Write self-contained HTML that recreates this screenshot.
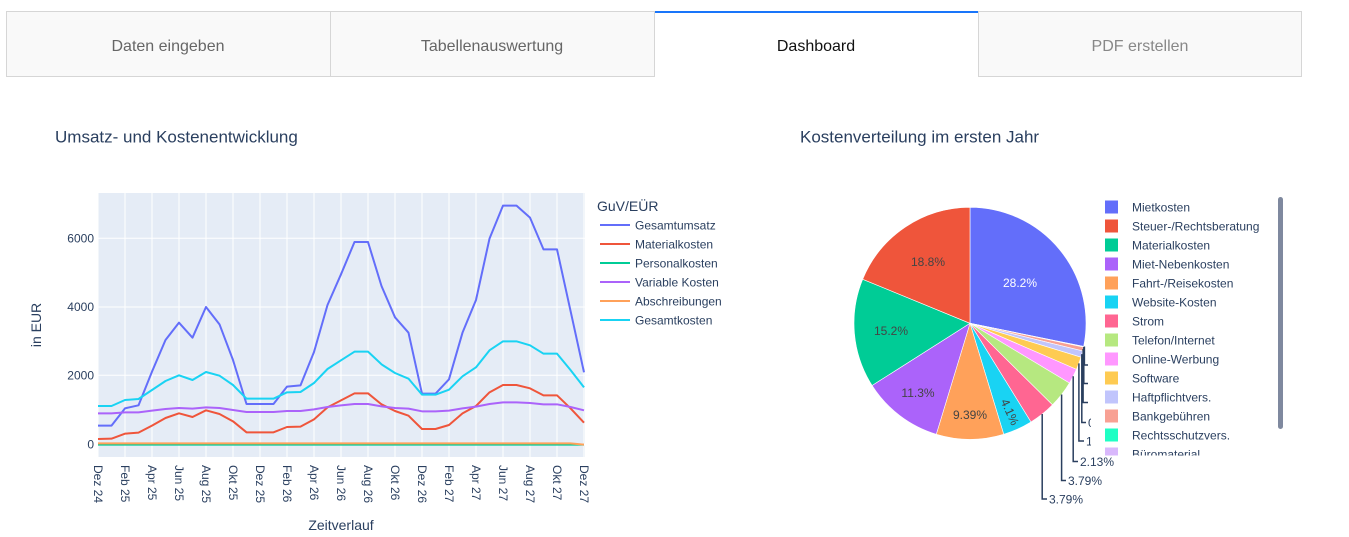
<!DOCTYPE html>
<html><head><meta charset="utf-8"><style>
html,body{margin:0;padding:0;background:#fff;}
svg{display:block;font-family:"Liberation Sans",sans-serif;}
</style></head><body>
<svg width="1349" height="537" viewBox="0 0 1349 537" xmlns="http://www.w3.org/2000/svg">
<!-- Tabs -->
<rect x="6.5" y="11.5" width="324" height="65" fill="#f9f9f9" stroke="#d6d6d6"/>
<rect x="330.5" y="11.5" width="324" height="65" fill="#f9f9f9" stroke="#d6d6d6"/>
<rect x="978.5" y="11.5" width="323" height="65" fill="#f9f9f9" stroke="#d6d6d6"/>
<rect x="655" y="11" width="323" height="2" fill="#1975FA"/>
<g font-size="16" text-anchor="middle">
<text x="168" y="51" fill="#666">Daten eingeben</text>
<text x="492" y="51" fill="#666">Tabellenauswertung</text>
<text x="816" y="51" fill="#111">Dashboard</text>
<text x="1140" y="51" fill="#888">PDF erstellen</text>
</g>

<!-- Titles -->
<text x="55" y="142.5" font-size="17" fill="#2a3f5f">Umsatz- und Kostenentwicklung</text>
<text x="800" y="142.5" font-size="17" fill="#2a3f5f">Kostenverteilung im ersten Jahr</text>

<!-- Line chart plot area -->
<rect x="98" y="193" width="487" height="264" fill="#E5ECF6"/>
<g stroke="#fff" stroke-width="1">
<line x1="98" y1="238.3" x2="585" y2="238.3"/>
<line x1="98" y1="307" x2="585" y2="307"/>
<line x1="98" y1="375.3" x2="585" y2="375.3"/>
<line x1="98" y1="444.3" x2="585" y2="444.3" stroke-width="2"/>
<line x1="98" y1="193" x2="98" y2="457"/><line x1="125" y1="193" x2="125" y2="457"/><line x1="152" y1="193" x2="152" y2="457"/><line x1="179" y1="193" x2="179" y2="457"/><line x1="206" y1="193" x2="206" y2="457"/><line x1="233" y1="193" x2="233" y2="457"/><line x1="260" y1="193" x2="260" y2="457"/><line x1="287" y1="193" x2="287" y2="457"/><line x1="314" y1="193" x2="314" y2="457"/><line x1="341" y1="193" x2="341" y2="457"/><line x1="368" y1="193" x2="368" y2="457"/><line x1="395" y1="193" x2="395" y2="457"/><line x1="422" y1="193" x2="422" y2="457"/><line x1="449" y1="193" x2="449" y2="457"/><line x1="476" y1="193" x2="476" y2="457"/><line x1="503" y1="193" x2="503" y2="457"/><line x1="530" y1="193" x2="530" y2="457"/><line x1="557" y1="193" x2="557" y2="457"/><line x1="584" y1="193" x2="584" y2="457"/>
</g>

<g transform="translate(80,180) scale(0.33333)" fill="none" stroke-width="2" stroke-linejoin="round">
<polyline vector-effect="non-scaling-stroke" stroke="#636EFA" stroke-width="2" points="54,737 94.5,737 135,685 175.5,676 216,575 256.5,480 297,428 337.5,473 378,381 418.5,433 459,540 499.5,672 540,672 580.5,672 621,620 661.5,616 702,516 742.5,375 783,283 823.5,186 864,186 904.5,318 945,412 985.5,458 1026,641 1066.5,641 1107,598 1147.5,458 1188,360 1228.5,176 1269,77 1309.5,77 1350,113 1390.5,208 1431,208 1471.5,392 1512,577"/>
<polyline vector-effect="non-scaling-stroke" stroke="#EF553B" stroke-width="2" points="54,777 94.5,776 135,761 175.5,758 216,737 256.5,714 297,700 337.5,711 378,691 418.5,702 459,724 499.5,757 540,757 580.5,757 621,741 661.5,740 702,718 742.5,682 783,661 823.5,640 864,640 904.5,673 945,693 985.5,707 1026,747 1066.5,747 1107,735 1147.5,700 1188,678 1228.5,637 1269,615 1309.5,615 1350,625 1390.5,646 1431,646 1471.5,685 1512,728"/>
<polyline vector-effect="non-scaling-stroke" stroke="#00CC96" stroke-width="2" points="54,794 1512,794"/>
<polyline vector-effect="non-scaling-stroke" stroke="#AB63FA" stroke-width="2" points="54,700 94.5,700 135,697 175.5,697 216,692 256.5,687 297,684 337.5,686 378,682 418.5,684 459,690 499.5,696 540,696 580.5,696 621,693 661.5,693 702,688 742.5,681 783,676 823.5,672 864,672 904.5,679 945,684 985.5,686 1026,694 1066.5,694 1107,692 1147.5,685 1188,680 1228.5,672 1269,667 1309.5,667 1350,669 1390.5,673 1431,673 1471.5,681 1512,691"/>
<polyline vector-effect="non-scaling-stroke" stroke="#FFA15A" stroke-width="2" points="54,790 1471.5,790 1512,794"/>
<polyline vector-effect="non-scaling-stroke" stroke="#19D3F3" stroke-width="2" points="54,678 94.5,678 135,660 175.5,657 216,630 256.5,603 297,586 337.5,600 378,576 418.5,587 459,615 499.5,656 540,656 580.5,656 621,637 661.5,636 702,609 742.5,567 783,541 823.5,515 864,515 904.5,553 945,579 985.5,596 1026,644 1066.5,644 1107,629 1147.5,589 1188,562 1228.5,511 1269,484 1309.5,484 1350,496 1390.5,521 1431,521 1471.5,570 1512,622"/>
</g>

<!-- Y axis -->
<g font-size="12" fill="#2a3f5f" text-anchor="end">
<text x="94" y="242.5">6000</text>
<text x="94" y="311">4000</text>
<text x="94" y="379.5">2000</text>
<text x="94" y="448.5">0</text>
</g>
<text transform="translate(36,325) rotate(-90)" font-size="14" fill="#2a3f5f" text-anchor="middle" dy="0.35em">in EUR</text>

<!-- X axis -->
<g font-size="12" fill="#2a3f5f">
<text transform="translate(98,465) rotate(90)" dy="0.35em">Dez 24</text>
<text transform="translate(125,465) rotate(90)" dy="0.35em">Feb 25</text>
<text transform="translate(152,465) rotate(90)" dy="0.35em">Apr 25</text>
<text transform="translate(179,465) rotate(90)" dy="0.35em">Jun 25</text>
<text transform="translate(206,465) rotate(90)" dy="0.35em">Aug 25</text>
<text transform="translate(233,465) rotate(90)" dy="0.35em">Okt 25</text>
<text transform="translate(260,465) rotate(90)" dy="0.35em">Dez 25</text>
<text transform="translate(287,465) rotate(90)" dy="0.35em">Feb 26</text>
<text transform="translate(314,465) rotate(90)" dy="0.35em">Apr 26</text>
<text transform="translate(341,465) rotate(90)" dy="0.35em">Jun 26</text>
<text transform="translate(368,465) rotate(90)" dy="0.35em">Aug 26</text>
<text transform="translate(395,465) rotate(90)" dy="0.35em">Okt 26</text>
<text transform="translate(422,465) rotate(90)" dy="0.35em">Dez 26</text>
<text transform="translate(449,465) rotate(90)" dy="0.35em">Feb 27</text>
<text transform="translate(476,465) rotate(90)" dy="0.35em">Apr 27</text>
<text transform="translate(503,465) rotate(90)" dy="0.35em">Jun 27</text>
<text transform="translate(530,465) rotate(90)" dy="0.35em">Aug 27</text>
<text transform="translate(557,465) rotate(90)" dy="0.35em">Okt 27</text>
<text transform="translate(584,465) rotate(90)" dy="0.35em">Dez 27</text>
</g>
<text x="341" y="530" font-size="14" fill="#2a3f5f" text-anchor="middle">Zeitverlauf</text>

<!-- Line legend -->
<text x="597" y="211" font-size="14" fill="#2a3f5f">GuV/EÜR</text>
<g stroke-width="2">
<line x1="600" y1="225" x2="630" y2="225" stroke="#636EFA"/>
<line x1="600" y1="244" x2="630" y2="244" stroke="#EF553B"/>
<line x1="600" y1="263" x2="630" y2="263" stroke="#00CC96"/>
<line x1="600" y1="282" x2="630" y2="282" stroke="#AB63FA"/>
<line x1="600" y1="301" x2="630" y2="301" stroke="#FFA15A"/>
<line x1="600" y1="320" x2="630" y2="320" stroke="#19D3F3"/>
</g>
<g font-size="12" fill="#2a3f5f">
<text x="635" y="229.5">Gesamtumsatz</text>
<text x="635" y="248.5">Materialkosten</text>
<text x="635" y="267.5">Personalkosten</text>
<text x="635" y="286.5">Variable Kosten</text>
<text x="635" y="305.5">Abschreibungen</text>
<text x="635" y="324.5">Gesamtkosten</text>
</g>

<!-- Pie -->
<g stroke="#fff" stroke-width="0.6">
<path d="M970,323.3 L970,207.3 A116,116 0 0 1 1083.67,346.43 Z" fill="#636EFA"/>
<path d="M970,323.3 L1083.67,346.43 A116,116 0 0 1 1083.61,346.72 Z" fill="#D9B8FC"/>
<path d="M970,323.3 L1083.61,346.72 A116,116 0 0 1 1083.53,347.12 Z" fill="#3FFFCC"/>
<path d="M970,323.3 L1083.53,347.12 A116,116 0 0 1 1082.65,350.97 Z" fill="#F8A194"/>
<path d="M970,323.3 L1082.65,350.97 A116,116 0 0 1 1080.93,357.22 Z" fill="#C1C5FC"/>
<path d="M970,323.3 L1080.93,357.22 A116,116 0 0 1 1076.46,369.37 Z" fill="#FECB52"/>
<path d="M970,323.3 L1076.46,369.37 A116,116 0 0 1 1069.43,383.05 Z" fill="#FF97FF"/>
<path d="M970,323.3 L1069.43,383.05 A116,116 0 0 1 1052.48,404.87 Z" fill="#B6E880"/>
<path d="M970,323.3 L1052.48,404.87 A116,116 0 0 1 1030.95,422.00 Z" fill="#FF6692"/>
<path d="M970,323.3 L1030.95,422.00 A116,116 0 0 1 1003.72,434.29 Z" fill="#19D3F3"/>
<path d="M970,323.3 L1003.72,434.29 A116,116 0 0 1 936.28,434.29 Z" fill="#FFA15A"/>
<path d="M970,323.3 L936.28,434.29 A116,116 0 0 1 872.06,385.46 Z" fill="#AB63FA"/>
<path d="M970,323.3 L872.06,385.46 A116,116 0 0 1 862.68,279.28 Z" fill="#00CC96"/>
<path d="M970,323.3 L862.68,279.28 A116,116 0 0 1 970,207.3 Z" fill="#EF553B"/>
</g>
<g font-size="12" text-anchor="middle" fill="#444">
<text x="1020" y="287" fill="#fff">28.2%</text>
<text x="928" y="266">18.8%</text>
<text x="891" y="335">15.2%</text>
<text x="918" y="397">11.3%</text>
<text x="970" y="419">9.39%</text>
<text transform="translate(1010,412) rotate(65.7)" dy="0.35em">4.1%</text>
</g>
<!-- leader lines -->
<g fill="none" stroke="#2a3f5f" stroke-width="1.5">
<polyline points="1042.2,414 1042.2,499 1047,499"/>
<polyline points="1061.6,394.5 1061.6,480.5 1066,480.5"/>
<polyline points="1073.2,376.3 1073.2,461.5 1078,461.5"/>
<polyline points="1078.9,363.4 1078.9,441 1084,441"/>
<polyline points="1081.8,354.1 1081.8,422.5 1086,422.5"/>
<polyline points="1083.1,349 1083.1,402.5 1088,402.5"/>
<polyline points="1083.8,347 1083.8,383.5 1088,383.5"/>
<polyline points="1084.4,346.5 1084.4,365 1088,365"/>
</g>
<g font-size="12" fill="#2a3f5f">
<text x="1049" y="503.5">3.79%</text>
<text x="1068" y="485">3.79%</text>
<text x="1080" y="466">2.13%</text>
<text x="1086" y="445.5">1.7%</text>
<text x="1088" y="427">0.9%</text>
</g>

<!-- Pie legend -->
<rect x="1091" y="190" width="200" height="265" fill="#fff"/>
<g>
<rect x="1105" y="200.5" width="13" height="13" fill="#636EFA"/>
<rect x="1105" y="219.5" width="13" height="13" fill="#EF553B"/>
<rect x="1105" y="238.5" width="13" height="13" fill="#00CC96"/>
<rect x="1105" y="257.5" width="13" height="13" fill="#AB63FA"/>
<rect x="1105" y="276.5" width="13" height="13" fill="#FFA15A"/>
<rect x="1105" y="295.5" width="13" height="13" fill="#19D3F3"/>
<rect x="1105" y="314.5" width="13" height="13" fill="#FF6692"/>
<rect x="1105" y="333.5" width="13" height="13" fill="#B6E880"/>
<rect x="1105" y="352.5" width="13" height="13" fill="#FF97FF"/>
<rect x="1105" y="371.5" width="13" height="13" fill="#FECB52"/>
<rect x="1105" y="390.5" width="13" height="13" fill="#C1C5FC"/>
<rect x="1105" y="409.5" width="13" height="13" fill="#F8A194"/>
<rect x="1105" y="428.5" width="13" height="13" fill="#1FFFC4"/>
<rect x="1105" y="447.5" width="13" height="8" fill="#D9B8FC"/>
</g>
<defs><clipPath id="lc"><rect x="1091" y="190" width="200" height="265.5"/></clipPath></defs>
<g font-size="12" fill="#2a3f5f" clip-path="url(#lc)">
<text x="1132" y="211.5">Mietkosten</text>
<text x="1132" y="230.5">Steuer-/Rechtsberatung</text>
<text x="1132" y="249.5">Materialkosten</text>
<text x="1132" y="268.5">Miet-Nebenkosten</text>
<text x="1132" y="287.5">Fahrt-/Reisekosten</text>
<text x="1132" y="306.5">Website-Kosten</text>
<text x="1132" y="325.5">Strom</text>
<text x="1132" y="344.5">Telefon/Internet</text>
<text x="1132" y="363.5">Online-Werbung</text>
<text x="1132" y="382.5">Software</text>
<text x="1132" y="401.5">Haftpflichtvers.</text>
<text x="1132" y="420.5">Bankgebühren</text>
<text x="1132" y="439.5">Rechtsschutzvers.</text>
<text x="1132" y="458.5">Büromaterial</text>
</g>
<rect x="1278" y="197" width="5" height="232" rx="2.5" fill="#7f899f"/>
</svg>
</body></html>
